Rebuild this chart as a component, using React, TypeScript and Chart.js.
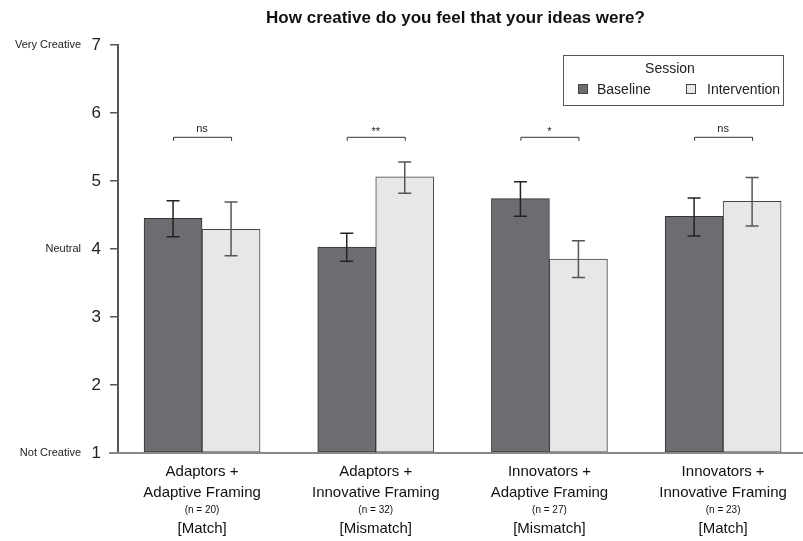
import React, { useEffect, useRef } from "react";
import { Chart, registerables } from "chart.js";

Chart.register(...registerables);

const titleText = "How creative do you feel that your ideas were?";
const groupLine1 = ["Adaptors +", "Adaptors +", "Innovators +", "Innovators +"];
const groupLine2 = ["Adaptive Framing", "Innovative Framing", "Adaptive Framing", "Innovative Framing"];
const sampleSizes = [20, 32, 27, 23];
const matchLabels = ["[Match]", "[Mismatch]", "[Mismatch]", "[Match]"];

const baselineMeans = [4.45, 4.03, 4.74, 4.48];
const baselineLow = [4.18, 3.82, 4.48, 4.19];
const baselineHigh = [4.71, 4.23, 4.99, 4.75];

const interventionMeans = [4.29, 5.06, 3.85, 4.7];
const interventionLow = [3.9, 4.82, 3.58, 4.34];
const interventionHigh = [4.69, 5.28, 4.12, 5.05];

const sigLabels = ["ns", "**", "*", "ns"];
const sigBracketY = 5.65;

const legendTitle = "Session";
const seriesNames = ["Baseline", "Intervention"];
const seriesColors = ["#6c6d71", "#e6e7e9"];
const errorColors = ["#222222", "#555555"];

const yWordLabels: Record<number, string> = { 1: "Not Creative", 4: "Neutral", 7: "Very Creative" };

const FONT = "'Liberation Sans', Arial, Helvetica, sans-serif";

const overlayPlugin = {
  id: "overlay",
  afterDatasetsDraw(chart: any) {
    const { ctx, chartArea, scales } = chart;
    const x = scales.x;
    const y = scales.y;
    ctx.save();

    // baseline at y = 1
    ctx.strokeStyle = "#888888";
    ctx.lineWidth = 2;
    ctx.beginPath();
    ctx.moveTo(109, y.getPixelForValue(1));
    ctx.lineTo(chart.width, y.getPixelForValue(1));
    ctx.stroke();

    // error bars
    const lows = [baselineLow, interventionLow];
    const highs = [baselineHigh, interventionHigh];
    for (let d = 0; d < 2; d++) {
      const meta = chart.getDatasetMeta(d);
      meta.data.forEach((bar: any, i: number) => {
        const cx = bar.x;
        const yl = y.getPixelForValue(lows[d][i]);
        const yh = y.getPixelForValue(highs[d][i]);
        ctx.strokeStyle = errorColors[d];
        ctx.lineWidth = 1.5;
        ctx.beginPath();
        ctx.moveTo(cx, yl);
        ctx.lineTo(cx, yh);
        ctx.moveTo(cx - 6.5, yl);
        ctx.lineTo(cx + 6.5, yl);
        ctx.moveTo(cx - 6.5, yh);
        ctx.lineTo(cx + 6.5, yh);
        ctx.stroke();
      });
    }

    // significance brackets
    const m0 = chart.getDatasetMeta(0);
    const m1 = chart.getDatasetMeta(1);
    const by = y.getPixelForValue(sigBracketY);
    sigLabels.forEach((lab, i) => {
      const x0 = m0.data[i].x;
      const x1 = m1.data[i].x;
      ctx.strokeStyle = "#333333";
      ctx.lineWidth = 1;
      ctx.beginPath();
      ctx.moveTo(x0 + 0.5, by + 4);
      ctx.lineTo(x0 + 0.5, by + 0.5);
      ctx.lineTo(x1 + 0.5, by + 0.5);
      ctx.lineTo(x1 + 0.5, by + 4);
      ctx.stroke();
      ctx.fillStyle = "#222222";
      ctx.font = `11px ${FONT}`;
      ctx.textAlign = "center";
      ctx.textBaseline = "middle";
      ctx.fillText(lab, (x0 + x1) / 2, by - (lab.startsWith("*") ? 5 : 8));
    });

    // x labels
    ctx.fillStyle = "#111111";
    ctx.textAlign = "center";
    ctx.textBaseline = "middle";
    groupLine1.forEach((l1, i) => {
      const cx = x.getPixelForValue(i);
      ctx.font = `15px ${FONT}`;
      ctx.fillText(l1, cx, 472);
      ctx.fillText(groupLine2[i], cx, 493);
      ctx.font = `10px ${FONT}`;
      ctx.fillText(`(n = ${sampleSizes[i]})`, cx, 510);
      ctx.font = `15px ${FONT}`;
      ctx.fillText(matchLabels[i], cx, 529);
    });

    // title
    ctx.font = `bold 17px ${FONT}`;
    ctx.fillStyle = "#111111";
    ctx.fillText(titleText, (chartArea.left + chartArea.right) / 2 - 5, 18);

    // legend
    ctx.strokeStyle = "#555555";
    ctx.lineWidth = 1;
    ctx.strokeRect(563.5, 55.5, 220, 50);
    ctx.font = `14px ${FONT}`;
    ctx.fillStyle = "#222222";
    ctx.fillText(legendTitle, 670, 69);
    const sx = [578, 686];
    const tx = [597, 707];
    seriesNames.forEach((name, d) => {
      ctx.fillStyle = seriesColors[d];
      ctx.fillRect(sx[d], 84, 10, 10);
      ctx.strokeStyle = "#444444";
      ctx.strokeRect(sx[d] + 0.5, 84.5, 9, 9);
      ctx.fillStyle = "#222222";
      ctx.textAlign = "left";
      ctx.fillText(name, tx[d], 90);
    });

    ctx.restore();
  },
};

export default function App() {
  const ref = useRef<HTMLCanvasElement>(null);
  useEffect(() => {
    if (!ref.current) return;
    const chart = new Chart(ref.current, {
      type: "bar",
      data: {
        datasets: [
          {
            label: seriesNames[0],
            data: baselineMeans.map((v, i) => ({ x: i, y: v })),
            backgroundColor: seriesColors[0],
            borderColor: "#333333",
            borderWidth: 1,
            borderSkipped: false,
            base: 1,
          } as any,
          {
            label: seriesNames[1],
            data: interventionMeans.map((v, i) => ({ x: i, y: v })),
            backgroundColor: seriesColors[1],
            borderColor: "#444444",
            borderWidth: 1,
            borderSkipped: false,
            base: 1,
          } as any,
        ],
      },
      options: {
        responsive: false,
        animation: false,
        events: [],
        barThickness: 58,
        layout: { padding: { top: 45, bottom: 88, left: 0, right: 0 } },
        plugins: {
          legend: { display: false },
          tooltip: { enabled: false },
          title: { display: false },
        },
        scales: {
          x: {
            type: "linear",
            display: false,
            offset: false,
            grid: { offset: false },
            min: -0.484,
            max: 3.46,
            afterBuildTicks: (s: any) => {
              s.ticks = groupLine1.map((_, i) => ({ value: i }));
            },
          },
          y: {
            type: "linear",
            position: "left",
            min: 1,
            max: 7,
            weight: 0,
            afterFit: (s: any) => {
              s.width = 32;
            },
            ticks: {
              stepSize: 1,
              padding: 9,
              color: "#222222",
              font: { family: FONT, size: 17 },
            },
            grid: {
              drawOnChartArea: false,
              drawTicks: true,
              tickLength: 8,
              color: "#555555",
              lineWidth: 1.5,
            },
            border: { display: true, color: "#555555", width: 2 },
          },
          y2: {
            type: "linear",
            position: "left",
            min: 1,
            max: 7,
            weight: 1,
            afterFit: (s: any) => {
              s.width = 86;
            },
            ticks: {
              stepSize: 1,
              padding: 5,
              color: "#222222",
              font: { family: FONT, size: 11 },
              callback: (v: any) => yWordLabels[Number(v)] ?? "",
            },
            grid: { display: false, drawTicks: false, tickLength: 0 },
            border: { display: false },
          },
        },
      } as any,
      plugins: [overlayPlugin],
    });
    return () => chart.destroy();
  }, []);
  return (
    <div style={{ position: "absolute", left: 0, top: 0, width: 803, height: 541 }}>
      <canvas ref={ref} width={803} height={541} style={{ display: "block" }} />
    </div>
  );
}
